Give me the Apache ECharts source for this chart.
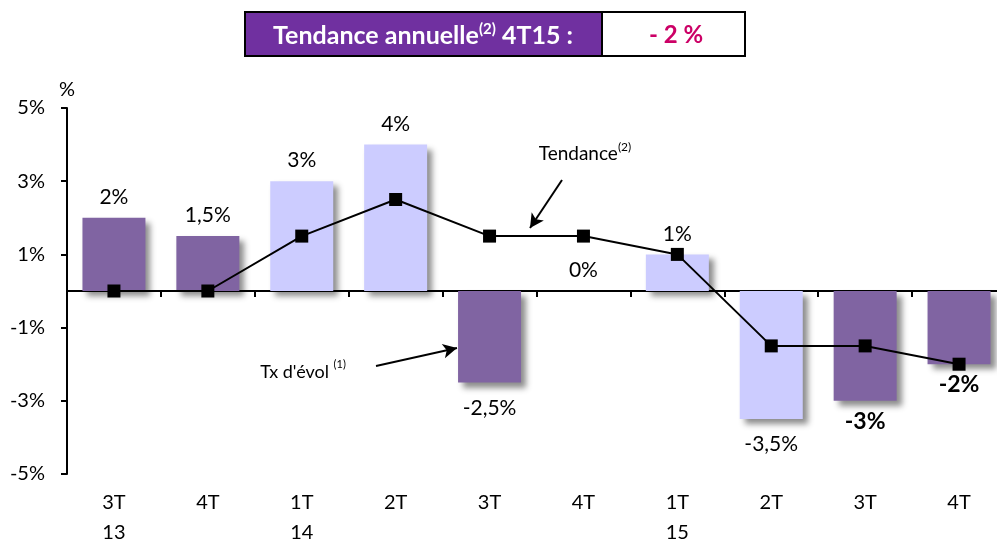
<!DOCTYPE html>
<html><head><meta charset="utf-8">
<script src="https://cdn.jsdelivr.net/npm/echarts@6/dist/echarts.min.js"></script>
<style>html,body{margin:0;padding:0;background:#fff}#c{width:997px;height:541px}</style>
</head><body><div id="c"></div>
<script>
// ---- data ----
const categories = ['3T\n13','4T','1T\n14','2T','3T','4T','1T\n15','2T','3T','4T'];
const rateValues = [2, 1.5, 3, 4, -2.5, 0, 1, -3.5, -3, -2];     // Tx d'évol (1)
const trendValues = [0, 0, 1.5, 2.5, 1.5, 1.5, 1, -1.5, -1.5, -2]; // Tendance (2)
const yTickLabels = ['-5%','-3%','-1%','1%','3%','5%'];
const headlineLabel = 'Tendance annuelle';
const headlineValue = '- 2 %';

// ---- styles ----
const DARK = '#8064A2', LIGHT = '#CCCCFF';
const barShade = ['d','d','l','l','d','d','l','l','d','d'];
const emphasised = [8, 9];
const FONT = 'Lato';

const fmt = v => String(v).replace('.', ',') + '%';

const chart = echarts.init(document.getElementById('c'), null, {renderer:'canvas'});
chart.setOption({
  animation: false,
  grid: {left: 67, top: 108, bottom: 67, right: -9, containLabel: false, outerBoundsMode: 'none'},
  xAxis: [
    {type:'category', data: categories, boundaryGap: true,
     axisLine:{show:true, onZero:true, onZeroAxisIndex:0, lineStyle:{color:'#000', width:2}},
     axisTick:{show:true, length:6, inside:false, lineStyle:{color:'#000', width:2}},
     axisLabel:{show:false}, splitLine:{show:false}},
    {type:'category', data: categories, position:'bottom', boundaryGap:true,
     axisLine:{show:false, onZero:false}, axisTick:{show:false},
     axisLabel:{show:true, interval:0, margin:14, color:'#000', fontFamily:FONT, fontSize:20, lineHeight:30},
     splitLine:{show:false}}
  ],
  yAxis: [
    {type:'value', min:-5, max:5, show:false, splitLine:{show:false}},
    {type:'value', min:0, max:10, interval:2, position:'left',
     name:'%', nameLocation:'end', nameGap:8,
     nameTextStyle:{color:'#000', fontFamily:FONT, fontSize:20, align:'center'},
     axisLine:{show:true, lineStyle:{color:'#000', width:2}},
     axisTick:{show:true, length:6, lineStyle:{color:'#000', width:2}},
     axisLabel:{show:true, margin:22, color:'#000', fontFamily:FONT, fontSize:20,
       formatter: (v) => yTickLabels[Math.round(v/2)]},
     splitLine:{show:false}}
  ],
  series: [
    {type:'bar', name:"Tx d'évol", xAxisIndex:0, yAxisIndex:0, barWidth:63, z:2,
     data: rateValues.map((v,i) => {
       const bold = emphasised.includes(i);
       return {value: v,
         itemStyle:{color: barShade[i]==='d' ? DARK : LIGHT,
           shadowColor:'rgba(0,0,0,0.45)', shadowBlur:6, shadowOffsetX:5, shadowOffsetY:5},
         label:{show:true, position: v < 0 ? 'bottom' : 'top',
           distance: bold ? 9 : (v < 0 ? 15 : 10),
           fontWeight: bold ? 'bold' : 'normal', fontSize: bold ? 23 : 21,
           color:'#000', fontFamily:FONT, formatter: p => fmt(p.value)}};
     })},
    {type:'line', name:'Tendance', xAxisIndex:0, yAxisIndex:0, data: trendValues, z:5,
     symbol:'rect', symbolSize:13, showSymbol:true,
     lineStyle:{color:'#000', width:2}, itemStyle:{color:'#000'},
     markLine:{silent:true, symbol:['none','arrow'], symbolSize:[11,14],
       lineStyle:{color:'#000', width:2, type:'solid'}, label:{show:false},
       data:[[{x:562,y:180},{x:530,y:228}], [{x:376,y:366},{x:457,y:348}]]}}
  ],
  graphic: [
    {type:'rect', shape:{x:245, y:12, width:357, height:44}, style:{fill:'#7030A0', stroke:null}},
    {type:'rect', shape:{x:245, y:12, width:500, height:44}, style:{fill:'none', stroke:'#000', lineWidth:2}},
    {type:'line', shape:{x1:602, y1:12, x2:602, y2:56}, style:{stroke:'#000', lineWidth:2}},
    {type:'text', x:423, y:35, style:{
      text:'{m|' + headlineLabel + '}{s|(2)}{m| 4T15 :}',
      align:'center', verticalAlign:'middle', fontFamily:FONT,
      rich:{m:{fill:'#fff', fontSize:25, fontWeight:'bold', fontFamily:FONT, lineHeight:27, verticalAlign:'bottom'},
            s:{fill:'#fff', fontSize:15, fontWeight:'bold', fontFamily:FONT, lineHeight:27, verticalAlign:'top'}}}},
    {type:'text', x:676, y:35, style:{text:headlineValue, fill:'#CC0066', fontSize:24, fontWeight:'bold',
      fontFamily:FONT, align:'center', verticalAlign:'middle'}},
    {type:'text', x:585, y:152, style:{text:'{m|Tendance}{s|(2)}', align:'center', verticalAlign:'middle',
      rich:{m:{fill:'#000', fontSize:19, fontFamily:FONT, lineHeight:22, verticalAlign:'bottom'},
            s:{fill:'#000', fontSize:12, fontFamily:FONT, lineHeight:22, verticalAlign:'top'}}}},
    {type:'text', x:303, y:370, style:{text:"{m|Tx d'évol }{s|(1)}", align:'center', verticalAlign:'middle',
      rich:{m:{fill:'#000', fontSize:18, fontFamily:FONT, lineHeight:22, verticalAlign:'bottom'},
            s:{fill:'#000', fontSize:11, fontFamily:FONT, lineHeight:22, verticalAlign:'top'}}}}
  ]
});
</script></body></html>
